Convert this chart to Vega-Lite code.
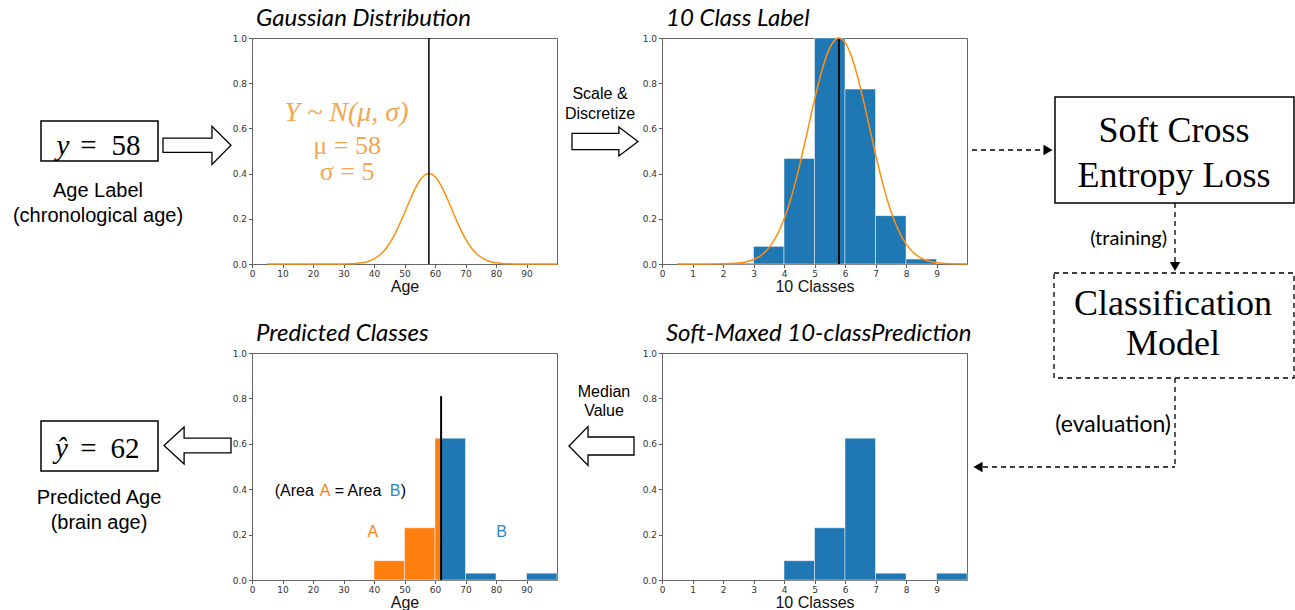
{
  "$schema": "https://vega.github.io/schema/vega-lite/v6.json",
  "background": "white",
  "padding": {"left": 0, "top": 6, "right": 0, "bottom": 0},
  "columns": 5,
  "spacing": {"row": 89, "column": 0},
  "bounds": "flush",
  "align": "each",
  "config": {
    "view": {"stroke": "#666", "strokeWidth": 1},
    "axis": {"labelFont": "DejaVu Sans", "labelFontSize": 9, "labelColor": "#333", "tickColor": "#333", "tickSize": 3.5, "tickWidth": 0.8, "domainColor": "#666", "grid": false, "titleFont": "Liberation Sans", "titleFontSize": 16, "titleFontWeight": "normal", "titleColor": "#111", "labelPadding": 2, "labelFlush": false, "labelOverlap": false},
    "axisX": {"titlePadding": 0},
    "title": {"anchor": "start", "frame": "group", "dx": 4, "font": "Lato", "fontStyle": "italic", "fontSize": 24, "fontWeight": "normal", "color": "black", "offset": 3}
  },
  "concat": [
    {
      "width": 252, "height": 226,
      "view": {"stroke": null, "fill": "white"},
      "data": {"values": [{}]},
      "layer": [
        {"mark": {"type": "rect", "fill": "white", "stroke": "black", "strokeWidth": 1.5},
         "encoding": {"x": {"datum": 41, "type": "quantitative", "scale": {"domain": [0, 252], "nice": false, "zero": false}, "axis": null}, "x2": {"datum": 158},
                      "y": {"datum": 121, "type": "quantitative", "scale": {"domain": [38, 264], "reverse": true, "nice": false, "zero": false}, "axis": null}, "y2": {"datum": 161}}},
        {"mark": {"type": "text", "font": "Liberation Serif", "fontStyle": "italic", "fontSize": 29, "baseline": "alphabetic", "align": "center", "color": "black"},
         "encoding": {"x": {"datum": 63, "type": "quantitative", "scale": {"domain": [0, 252], "nice": false, "zero": false}, "axis": null},
                      "y": {"datum": 155, "type": "quantitative", "scale": {"domain": [38, 264], "reverse": true, "nice": false, "zero": false}, "axis": null}, "text": {"value": "y"}}},
        {"mark": {"type": "text", "font": "Liberation Serif", "fontSize": 29, "baseline": "alphabetic", "align": "center", "color": "black"},
         "encoding": {"x": {"datum": 88.5, "type": "quantitative", "scale": {"domain": [0, 252], "nice": false, "zero": false}, "axis": null},
                      "y": {"datum": 155, "type": "quantitative", "scale": {"domain": [38, 264], "reverse": true, "nice": false, "zero": false}, "axis": null}, "text": {"value": "="}}},
        {"mark": {"type": "text", "font": "Liberation Serif", "fontSize": 29, "baseline": "alphabetic", "align": "center", "color": "black"},
         "encoding": {"x": {"datum": 126, "type": "quantitative", "scale": {"domain": [0, 252], "nice": false, "zero": false}, "axis": null},
                      "y": {"datum": 155, "type": "quantitative", "scale": {"domain": [38, 264], "reverse": true, "nice": false, "zero": false}, "axis": null}, "text": {"value": "58"}}},
        {"mark": {"type": "text", "font": "Liberation Sans", "fontSize": 20, "lineBreak": "\n", "lineHeight": 25, "baseline": "alphabetic", "align": "center", "color": "black"},
         "encoding": {"x": {"datum": 98, "type": "quantitative", "scale": {"domain": [0, 252], "nice": false, "zero": false}, "axis": null},
                      "y": {"datum": 197, "type": "quantitative", "scale": {"domain": [38, 264], "reverse": true, "nice": false, "zero": false}, "axis": null}, "text": {"value": "Age Label\n(chronological age)"}}},
        {"mark": {"type": "point", "shape": "M -1 -0.21 L 0.44 -0.21 L 0.44 -0.56 L 1 0 L 0.44 0.56 L 0.44 0.21 L -1 0.21 Z", "size": 4624, "filled": true, "fill": "white", "stroke": "black", "strokeWidth": 1.3, "opacity": 1},
         "encoding": {"x": {"datum": 197, "type": "quantitative", "scale": {"domain": [0, 252], "nice": false, "zero": false}, "axis": null},
                      "y": {"datum": 145.3, "type": "quantitative", "scale": {"domain": [38, 264], "reverse": true, "nice": false, "zero": false}, "axis": null}}},
        {"mark": {"type": "rect", "fill": "white", "stroke": "black", "strokeWidth": 1.5},
         "encoding": {"x": {"datum": 41, "type": "quantitative", "scale": {"domain": [0, 252], "nice": false, "zero": false}, "axis": null}, "x2": {"datum": 158},
                      "y": {"datum": 421, "type": "quantitative", "scale": {"domain": [38, 264], "reverse": true, "nice": false, "zero": false}, "axis": null}, "y2": {"datum": 471}}},
        {"mark": {"type": "text", "font": "Liberation Serif", "fontStyle": "italic", "fontSize": 29, "baseline": "alphabetic", "align": "center", "color": "black"},
         "encoding": {"x": {"datum": 61.5, "type": "quantitative", "scale": {"domain": [0, 252], "nice": false, "zero": false}, "axis": null},
                      "y": {"datum": 458, "type": "quantitative", "scale": {"domain": [38, 264], "reverse": true, "nice": false, "zero": false}, "axis": null}, "text": {"value": "ŷ"}}},
        {"mark": {"type": "text", "font": "Liberation Serif", "fontSize": 29, "baseline": "alphabetic", "align": "center", "color": "black"},
         "encoding": {"x": {"datum": 88.5, "type": "quantitative", "scale": {"domain": [0, 252], "nice": false, "zero": false}, "axis": null},
                      "y": {"datum": 458, "type": "quantitative", "scale": {"domain": [38, 264], "reverse": true, "nice": false, "zero": false}, "axis": null}, "text": {"value": "="}}},
        {"mark": {"type": "text", "font": "Liberation Serif", "fontSize": 29, "baseline": "alphabetic", "align": "center", "color": "black"},
         "encoding": {"x": {"datum": 125, "type": "quantitative", "scale": {"domain": [0, 252], "nice": false, "zero": false}, "axis": null},
                      "y": {"datum": 458, "type": "quantitative", "scale": {"domain": [38, 264], "reverse": true, "nice": false, "zero": false}, "axis": null}, "text": {"value": "62"}}},
        {"mark": {"type": "text", "font": "Liberation Sans", "fontSize": 20, "lineBreak": "\n", "lineHeight": 25, "baseline": "alphabetic", "align": "center", "color": "black"},
         "encoding": {"x": {"datum": 99, "type": "quantitative", "scale": {"domain": [0, 252], "nice": false, "zero": false}, "axis": null},
                      "y": {"datum": 504, "type": "quantitative", "scale": {"domain": [38, 264], "reverse": true, "nice": false, "zero": false}, "axis": null}, "text": {"value": "Predicted Age\n(brain age)"}}},
        {"mark": {"type": "point", "shape": "M 1 -0.22 L -0.4 -0.22 L -0.4 -0.55 L -1 0 L -0.4 0.55 L -0.4 0.22 L 1 0.22 Z", "size": 4489, "filled": true, "fill": "white", "stroke": "black", "strokeWidth": 1.3, "opacity": 1},
         "encoding": {"x": {"datum": 197.5, "type": "quantitative", "scale": {"domain": [0, 252], "nice": false, "zero": false}, "axis": null},
                      "y": {"datum": 445.5, "type": "quantitative", "scale": {"domain": [38, 264], "reverse": true, "nice": false, "zero": false}, "axis": null}}}
      ]
    },
    {
      "width": 305, "height": 226,
      "title": {"text": "Gaussian Distribution"},
      "layer": [
        {"data": {"values": [
          {"age": 5, "density": 0}, {"age": 20, "density": 0}, {"age": 24, "density": 0}, {"age": 28, "density": 0.0001}, {"age": 30, "density": 0.0004},
          {"age": 32, "density": 0.001}, {"age": 34, "density": 0.0024}, {"age": 36, "density": 0.0054}, {"age": 38, "density": 0.0114}, {"age": 40, "density": 0.0225},
          {"age": 42, "density": 0.041}, {"age": 44, "density": 0.070}, {"age": 46, "density": 0.111}, {"age": 48, "density": 0.164}, {"age": 50, "density": 0.226},
          {"age": 52, "density": 0.290}, {"age": 54, "density": 0.347}, {"age": 56, "density": 0.386}, {"age": 58, "density": 0.400}, {"age": 60, "density": 0.386},
          {"age": 62, "density": 0.347}, {"age": 64, "density": 0.290}, {"age": 66, "density": 0.226}, {"age": 68, "density": 0.164}, {"age": 70, "density": 0.111},
          {"age": 72, "density": 0.070}, {"age": 74, "density": 0.041}, {"age": 76, "density": 0.0225}, {"age": 78, "density": 0.0114}, {"age": 80, "density": 0.0054},
          {"age": 82, "density": 0.0024}, {"age": 84, "density": 0.001}, {"age": 86, "density": 0.0004}, {"age": 88, "density": 0.0001}, {"age": 92, "density": 0},
          {"age": 100, "density": 0}]},
         "mark": {"type": "line", "color": "#ff8f0f", "strokeWidth": 1.5, "interpolate": "monotone"},
         "encoding": {
           "x": {"field": "age", "type": "quantitative", "scale": {"domain": [0, 100], "nice": false, "zero": false}, "axis": {"values": [0, 10, 20, 30, 40, 50, 60, 70, 80, 90], "title": "Age"}},
           "y": {"field": "density", "type": "quantitative", "scale": {"domain": [0, 1], "nice": false}, "axis": {"values": [0, 0.2, 0.4, 0.6, 0.8, 1], "format": ".1f", "title": null}}}},
        {"data": {"values": [{"age": 58, "low": 0, "high": 1}]},
         "mark": {"type": "rule", "color": "black", "strokeWidth": 1.5},
         "encoding": {"x": {"field": "age", "type": "quantitative", "axis": {"values": [0, 10, 20, 30, 40, 50, 60, 70, 80, 90], "title": "Age"}},
                      "y": {"field": "low", "type": "quantitative", "axis": {"values": [0, 0.2, 0.4, 0.6, 0.8, 1], "format": ".1f", "title": null}}, "y2": {"field": "high"}}},
        {"data": {"values": [{"label": "Y ~ N(μ, σ)"}]},
         "mark": {"type": "text", "font": "Liberation Serif", "fontStyle": "italic", "fontSize": 28, "color": "#f4a650", "baseline": "middle"},
         "encoding": {"x": {"datum": 31, "axis": {"values": [0, 10, 20, 30, 40, 50, 60, 70, 80, 90], "title": "Age"}}, "y": {"datum": 0.67, "axis": {"values": [0, 0.2, 0.4, 0.6, 0.8, 1], "format": ".1f", "title": null}}, "text": {"field": "label"}}},
        {"data": {"values": [{"label": "μ = 58"}]},
         "mark": {"type": "text", "font": "Liberation Serif", "fontSize": 26, "color": "#f4a650", "baseline": "middle"},
         "encoding": {"x": {"datum": 31.2, "axis": {"values": [0, 10, 20, 30, 40, 50, 60, 70, 80, 90], "title": "Age"}}, "y": {"datum": 0.522, "axis": {"values": [0, 0.2, 0.4, 0.6, 0.8, 1], "format": ".1f", "title": null}}, "text": {"field": "label"}}},
        {"data": {"values": [{"label": "σ = 5"}]},
         "mark": {"type": "text", "font": "Liberation Serif", "fontSize": 26, "color": "#f4a650", "baseline": "middle"},
         "encoding": {"x": {"datum": 31.2, "axis": {"values": [0, 10, 20, 30, 40, 50, 60, 70, 80, 90], "title": "Age"}}, "y": {"datum": 0.405, "axis": {"values": [0, 0.2, 0.4, 0.6, 0.8, 1], "format": ".1f", "title": null}}, "text": {"field": "label"}}}
      ]
    },
    {
      "width": 105, "height": 226,
      "view": {"stroke": null},
      "data": {"values": [{}]},
      "layer": [
        {"mark": {"type": "text", "font": "Liberation Sans", "fontSize": 16, "lineBreak": "\n", "lineHeight": 20, "baseline": "alphabetic", "align": "center", "color": "black"},
         "encoding": {"x": {"datum": 600, "type": "quantitative", "scale": {"domain": [557, 662], "nice": false, "zero": false}, "axis": null},
                      "y": {"datum": 99, "type": "quantitative", "scale": {"domain": [38, 264], "reverse": true, "nice": false, "zero": false}, "axis": null}, "text": {"value": "Scale &\nDiscretize"}}},
        {"mark": {"type": "point", "shape": "M -1 -0.245 L 0.42 -0.245 L 0.42 -0.44 L 1 0 L 0.42 0.44 L 0.42 0.245 L -1 0.245 Z", "size": 4356, "filled": true, "fill": "white", "stroke": "black", "strokeWidth": 1.3, "opacity": 1},
         "encoding": {"x": {"datum": 605, "type": "quantitative", "scale": {"domain": [557, 662], "nice": false, "zero": false}, "axis": null},
                      "y": {"datum": 141.5, "type": "quantitative", "scale": {"domain": [38, 264], "reverse": true, "nice": false, "zero": false}, "axis": null}}},
        {"mark": {"type": "text", "font": "Liberation Sans", "fontSize": 16, "lineBreak": "\n", "lineHeight": 19, "baseline": "alphabetic", "align": "center", "color": "black"},
         "encoding": {"x": {"datum": 604, "type": "quantitative", "scale": {"domain": [557, 662], "nice": false, "zero": false}, "axis": null},
                      "y": {"datum": 397, "type": "quantitative", "scale": {"domain": [38, 264], "reverse": true, "nice": false, "zero": false}, "axis": null}, "text": {"value": "Median\nValue"}}},
        {"mark": {"type": "point", "shape": "M 1 -0.277 L -0.415 -0.277 L -0.415 -0.6 L -1 0 L -0.415 0.6 L -0.415 0.277 L 1 0.277 Z", "size": 4225, "filled": true, "fill": "white", "stroke": "black", "strokeWidth": 1.3, "opacity": 1},
         "encoding": {"x": {"datum": 601.5, "type": "quantitative", "scale": {"domain": [557, 662], "nice": false, "zero": false}, "axis": null},
                      "y": {"datum": 446, "type": "quantitative", "scale": {"domain": [38, 264], "reverse": true, "nice": false, "zero": false}, "axis": null}}}
      ]
    },
    {
      "width": 305, "height": 226,
      "title": {"text": "10 Class Label"},
      "layer": [
        {"data": {"values": [
          {"start": 2, "end": 3, "prob": 0.004}, {"start": 3, "end": 4, "prob": 0.078}, {"start": 4, "end": 5, "prob": 0.467},
          {"start": 5, "end": 6, "prob": 1.0}, {"start": 6, "end": 7, "prob": 0.774}, {"start": 7, "end": 8, "prob": 0.214}, {"start": 8, "end": 9, "prob": 0.022}]},
         "mark": {"type": "bar", "color": "#1f77b4", "stroke": "white", "strokeOpacity": 0.6, "strokeWidth": 0.8},
         "encoding": {
           "x": {"field": "start", "type": "quantitative", "scale": {"domain": [0, 10], "nice": false, "zero": false}, "axis": {"values": [0, 1, 2, 3, 4, 5, 6, 7, 8, 9], "title": "10 Classes"}},
           "x2": {"field": "end"},
           "y": {"field": "prob", "type": "quantitative", "scale": {"domain": [0, 1], "nice": false}, "axis": {"values": [0, 0.2, 0.4, 0.6, 0.8, 1], "format": ".1f", "title": null}},
           "y2": {"datum": 0}}},
        {"data": {"values": [{"cls": 5.8, "low": 0, "high": 1}]},
         "mark": {"type": "rule", "color": "black", "strokeWidth": 1.8},
         "encoding": {"x": {"field": "cls", "type": "quantitative", "axis": {"values": [0, 1, 2, 3, 4, 5, 6, 7, 8, 9], "title": "10 Classes"}},
                      "y": {"field": "low", "type": "quantitative", "axis": {"values": [0, 0.2, 0.4, 0.6, 0.8, 1], "format": ".1f", "title": null}}, "y2": {"field": "high"}}},
        {"data": {"values": [
          {"cls": 0.5, "p": 0}, {"cls": 1.5, "p": 0.0001}, {"cls": 2.0, "p": 0.0007}, {"cls": 2.4, "p": 0.0031}, {"cls": 2.8, "p": 0.0111},
          {"cls": 3.0, "p": 0.0198}, {"cls": 3.2, "p": 0.034}, {"cls": 3.4, "p": 0.0561}, {"cls": 3.6, "p": 0.0889}, {"cls": 3.8, "p": 0.1353},
          {"cls": 4.0, "p": 0.1979}, {"cls": 4.2, "p": 0.278}, {"cls": 4.4, "p": 0.3753}, {"cls": 4.6, "p": 0.4868}, {"cls": 4.8, "p": 0.6065},
          {"cls": 5.0, "p": 0.7261}, {"cls": 5.2, "p": 0.8353}, {"cls": 5.4, "p": 0.9231}, {"cls": 5.6, "p": 0.9802}, {"cls": 5.8, "p": 1.0},
          {"cls": 6.0, "p": 0.9802}, {"cls": 6.2, "p": 0.9231}, {"cls": 6.4, "p": 0.8353}, {"cls": 6.6, "p": 0.7261}, {"cls": 6.8, "p": 0.6065},
          {"cls": 7.0, "p": 0.4868}, {"cls": 7.2, "p": 0.3753}, {"cls": 7.4, "p": 0.278}, {"cls": 7.6, "p": 0.1979}, {"cls": 7.8, "p": 0.1353},
          {"cls": 8.0, "p": 0.0889}, {"cls": 8.2, "p": 0.0561}, {"cls": 8.4, "p": 0.034}, {"cls": 8.6, "p": 0.0198}, {"cls": 8.8, "p": 0.0111},
          {"cls": 9.2, "p": 0.0031}, {"cls": 9.6, "p": 0.0007}, {"cls": 10.0, "p": 0.0001}]},
         "mark": {"type": "line", "color": "#ff8f0f", "strokeWidth": 1.5, "interpolate": "monotone"},
         "encoding": {"x": {"field": "cls", "type": "quantitative", "axis": {"values": [0, 1, 2, 3, 4, 5, 6, 7, 8, 9], "title": "10 Classes"}},
                      "y": {"field": "p", "type": "quantitative", "axis": {"values": [0, 0.2, 0.4, 0.6, 0.8, 1], "format": ".1f", "title": null}}}}
      ]
    },
    {
      "width": 328, "height": 226,
      "view": {"stroke": null},
      "data": {"values": [{}]},
      "layer": [
        {"mark": {"type": "rule", "color": "black", "strokeWidth": 1.3, "strokeDash": [5, 4]},
         "encoding": {"x": {"datum": 972, "type": "quantitative", "scale": {"domain": [967, 1295], "nice": false, "zero": false}, "axis": null}, "x2": {"datum": 1043},
                      "y": {"datum": 150, "type": "quantitative", "scale": {"domain": [38, 264], "reverse": true, "nice": false, "zero": false}, "axis": null}}},
        {"mark": {"type": "point", "shape": "triangle-right", "size": 110, "filled": true, "color": "black", "opacity": 1},
         "encoding": {"x": {"datum": 1048, "type": "quantitative", "scale": {"domain": [967, 1295], "nice": false, "zero": false}, "axis": null},
                      "y": {"datum": 150, "type": "quantitative", "scale": {"domain": [38, 264], "reverse": true, "nice": false, "zero": false}, "axis": null}}},
        {"mark": {"type": "rect", "fill": "white", "stroke": "black", "strokeWidth": 1.5},
         "encoding": {"x": {"datum": 1055, "type": "quantitative", "scale": {"domain": [967, 1295], "nice": false, "zero": false}, "axis": null}, "x2": {"datum": 1294},
                      "y": {"datum": 97, "type": "quantitative", "scale": {"domain": [38, 264], "reverse": true, "nice": false, "zero": false}, "axis": null}, "y2": {"datum": 203}}},
        {"mark": {"type": "text", "font": "Liberation Serif", "fontSize": 36, "lineBreak": "\n", "lineHeight": 45, "baseline": "alphabetic", "align": "center", "color": "black"},
         "encoding": {"x": {"datum": 1174, "type": "quantitative", "scale": {"domain": [967, 1295], "nice": false, "zero": false}, "axis": null},
                      "y": {"datum": 142, "type": "quantitative", "scale": {"domain": [38, 264], "reverse": true, "nice": false, "zero": false}, "axis": null}, "text": {"value": "Soft Cross\nEntropy Loss"}}},
        {"mark": {"type": "rule", "color": "black", "strokeWidth": 1.3, "strokeDash": [5, 4]},
         "encoding": {"x": {"datum": 1175, "type": "quantitative", "scale": {"domain": [967, 1295], "nice": false, "zero": false}, "axis": null},
                      "y": {"datum": 203, "type": "quantitative", "scale": {"domain": [38, 264], "reverse": true, "nice": false, "zero": false}, "axis": null}, "y2": {"datum": 262}}},
        {"mark": {"type": "point", "shape": "triangle-down", "size": 110, "filled": true, "color": "black", "opacity": 1},
         "encoding": {"x": {"datum": 1175, "type": "quantitative", "scale": {"domain": [967, 1295], "nice": false, "zero": false}, "axis": null},
                      "y": {"datum": 266.5, "type": "quantitative", "scale": {"domain": [38, 264], "reverse": true, "nice": false, "zero": false}, "axis": null}}},
        {"mark": {"type": "text", "font": "Lato", "fontSize": 20, "baseline": "middle", "align": "right", "color": "black"},
         "encoding": {"x": {"datum": 1167, "type": "quantitative", "scale": {"domain": [967, 1295], "nice": false, "zero": false}, "axis": null},
                      "y": {"datum": 239, "type": "quantitative", "scale": {"domain": [38, 264], "reverse": true, "nice": false, "zero": false}, "axis": null}, "text": {"value": "(training)"}}},
        {"mark": {"type": "rect", "fill": null, "stroke": "black", "strokeWidth": 1.3, "strokeDash": [5, 4]},
         "encoding": {"x": {"datum": 1054, "type": "quantitative", "scale": {"domain": [967, 1295], "nice": false, "zero": false}, "axis": null}, "x2": {"datum": 1294},
                      "y": {"datum": 273, "type": "quantitative", "scale": {"domain": [38, 264], "reverse": true, "nice": false, "zero": false}, "axis": null}, "y2": {"datum": 378}}},
        {"mark": {"type": "text", "font": "Liberation Serif", "fontSize": 36, "lineBreak": "\n", "lineHeight": 40, "baseline": "alphabetic", "align": "center", "color": "black"},
         "encoding": {"x": {"datum": 1173, "type": "quantitative", "scale": {"domain": [967, 1295], "nice": false, "zero": false}, "axis": null},
                      "y": {"datum": 315, "type": "quantitative", "scale": {"domain": [38, 264], "reverse": true, "nice": false, "zero": false}, "axis": null}, "text": {"value": "Classification\nModel"}}},
        {"mark": {"type": "rule", "color": "black", "strokeWidth": 1.3, "strokeDash": [5, 4]},
         "encoding": {"x": {"datum": 1175, "type": "quantitative", "scale": {"domain": [967, 1295], "nice": false, "zero": false}, "axis": null},
                      "y": {"datum": 378, "type": "quantitative", "scale": {"domain": [38, 264], "reverse": true, "nice": false, "zero": false}, "axis": null}, "y2": {"datum": 467}}},
        {"mark": {"type": "rule", "color": "black", "strokeWidth": 1.3, "strokeDash": [5, 4]},
         "encoding": {"x": {"datum": 983, "type": "quantitative", "scale": {"domain": [967, 1295], "nice": false, "zero": false}, "axis": null}, "x2": {"datum": 1175},
                      "y": {"datum": 467, "type": "quantitative", "scale": {"domain": [38, 264], "reverse": true, "nice": false, "zero": false}, "axis": null}}},
        {"mark": {"type": "point", "shape": "triangle-left", "size": 110, "filled": true, "color": "black", "opacity": 1},
         "encoding": {"x": {"datum": 978, "type": "quantitative", "scale": {"domain": [967, 1295], "nice": false, "zero": false}, "axis": null},
                      "y": {"datum": 467, "type": "quantitative", "scale": {"domain": [38, 264], "reverse": true, "nice": false, "zero": false}, "axis": null}}},
        {"mark": {"type": "text", "font": "Lato", "fontSize": 23, "baseline": "middle", "align": "right", "color": "black"},
         "encoding": {"x": {"datum": 1171, "type": "quantitative", "scale": {"domain": [967, 1295], "nice": false, "zero": false}, "axis": null},
                      "y": {"datum": 425, "type": "quantitative", "scale": {"domain": [38, 264], "reverse": true, "nice": false, "zero": false}, "axis": null}, "text": {"value": "(evaluation)"}}}
      ]
    },
    {
      "width": 252, "height": 227,
      "view": {"stroke": null},
      "data": {"values": []},
      "mark": "point"
    },
    {
      "width": 305, "height": 227,
      "title": {"text": "Predicted Classes"},
      "layer": [
        {"data": {"values": [
          {"start": 40, "end": 50, "prob": 0.085, "part": "A"}, {"start": 50, "end": 60, "prob": 0.23, "part": "A"}, {"start": 60, "end": 62, "prob": 0.625, "part": "A"},
          {"start": 62, "end": 70, "prob": 0.625, "part": "B"}, {"start": 70, "end": 80, "prob": 0.03, "part": "B"}, {"start": 90, "end": 100, "prob": 0.03, "part": "B"}]},
         "mark": {"type": "bar", "stroke": "white", "strokeOpacity": 0.6, "strokeWidth": 0.8},
         "encoding": {
           "x": {"field": "start", "type": "quantitative", "scale": {"domain": [0, 100], "nice": false, "zero": false}, "axis": {"values": [0, 10, 20, 30, 40, 50, 60, 70, 80, 90], "title": "Age"}},
           "x2": {"field": "end"},
           "y": {"field": "prob", "type": "quantitative", "scale": {"domain": [0, 1], "nice": false}, "axis": {"values": [0, 0.2, 0.4, 0.6, 0.8, 1], "format": ".1f", "title": null}},
           "y2": {"datum": 0},
           "color": {"field": "part", "type": "nominal", "scale": {"domain": ["A", "B"], "range": ["#ff7f0e", "#1f77b4"]}, "legend": null}}},
        {"data": {"values": [{"age": 62, "low": 0, "high": 0.81}]},
         "mark": {"type": "rule", "color": "black", "strokeWidth": 2},
         "encoding": {"x": {"field": "age", "type": "quantitative", "axis": {"values": [0, 10, 20, 30, 40, 50, 60, 70, 80, 90], "title": "Age"}},
                      "y": {"field": "low", "type": "quantitative", "axis": {"values": [0, 0.2, 0.4, 0.6, 0.8, 1], "format": ".1f", "title": null}}, "y2": {"field": "high"}}},
        {"data": {"values": [{"label": "(Area"}]},
         "mark": {"type": "text", "font": "Liberation Sans", "fontSize": 16, "color": "black", "align": "left", "baseline": "middle"},
         "encoding": {"x": {"datum": 7.44, "axis": {"values": [0, 10, 20, 30, 40, 50, 60, 70, 80, 90], "title": "Age"}}, "y": {"datum": 0.39, "axis": {"values": [0, 0.2, 0.4, 0.6, 0.8, 1], "format": ".1f", "title": null}}, "text": {"field": "label"}}},
        {"data": {"values": [{"label": "A"}]},
         "mark": {"type": "text", "font": "Liberation Sans", "fontSize": 16, "color": "#ff7f0e", "align": "left", "baseline": "middle"},
         "encoding": {"x": {"datum": 22.2, "axis": {"values": [0, 10, 20, 30, 40, 50, 60, 70, 80, 90], "title": "Age"}}, "y": {"datum": 0.39, "axis": {"values": [0, 0.2, 0.4, 0.6, 0.8, 1], "format": ".1f", "title": null}}, "text": {"field": "label"}}},
        {"data": {"values": [{"label": "= Area"}]},
         "mark": {"type": "text", "font": "Liberation Sans", "fontSize": 16, "color": "black", "align": "left", "baseline": "middle"},
         "encoding": {"x": {"datum": 27.1, "axis": {"values": [0, 10, 20, 30, 40, 50, 60, 70, 80, 90], "title": "Age"}}, "y": {"datum": 0.39, "axis": {"values": [0, 0.2, 0.4, 0.6, 0.8, 1], "format": ".1f", "title": null}}, "text": {"field": "label"}}},
        {"data": {"values": [{"label": "B"}]},
         "mark": {"type": "text", "font": "Liberation Sans", "fontSize": 16, "color": "#2e86c8", "align": "left", "baseline": "middle"},
         "encoding": {"x": {"datum": 45.15, "axis": {"values": [0, 10, 20, 30, 40, 50, 60, 70, 80, 90], "title": "Age"}}, "y": {"datum": 0.39, "axis": {"values": [0, 0.2, 0.4, 0.6, 0.8, 1], "format": ".1f", "title": null}}, "text": {"field": "label"}}},
        {"data": {"values": [{"label": ")"}]},
         "mark": {"type": "text", "font": "Liberation Sans", "fontSize": 16, "color": "black", "align": "left", "baseline": "middle"},
         "encoding": {"x": {"datum": 48.75, "axis": {"values": [0, 10, 20, 30, 40, 50, 60, 70, 80, 90], "title": "Age"}}, "y": {"datum": 0.39, "axis": {"values": [0, 0.2, 0.4, 0.6, 0.8, 1], "format": ".1f", "title": null}}, "text": {"field": "label"}}},
        {"data": {"values": [{"label": "A"}]},
         "mark": {"type": "text", "font": "Liberation Sans", "fontSize": 16, "color": "#ff7f0e", "align": "center", "baseline": "middle"},
         "encoding": {"x": {"datum": 39.6, "axis": {"values": [0, 10, 20, 30, 40, 50, 60, 70, 80, 90], "title": "Age"}}, "y": {"datum": 0.21, "axis": {"values": [0, 0.2, 0.4, 0.6, 0.8, 1], "format": ".1f", "title": null}}, "text": {"field": "label"}}},
        {"data": {"values": [{"label": "B"}]},
         "mark": {"type": "text", "font": "Liberation Sans", "fontSize": 16, "color": "#2e86c8", "align": "center", "baseline": "middle"},
         "encoding": {"x": {"datum": 81.8, "axis": {"values": [0, 10, 20, 30, 40, 50, 60, 70, 80, 90], "title": "Age"}}, "y": {"datum": 0.21, "axis": {"values": [0, 0.2, 0.4, 0.6, 0.8, 1], "format": ".1f", "title": null}}, "text": {"field": "label"}}}
      ]
    },
    {
      "width": 105, "height": 227,
      "view": {"stroke": null},
      "data": {"values": []},
      "mark": "point"
    },
    {
      "width": 305, "height": 227,
      "title": {"text": "Soft-Maxed 10-classPrediction"},
      "data": {"values": [
        {"start": 4, "end": 5, "prob": 0.085}, {"start": 5, "end": 6, "prob": 0.23}, {"start": 6, "end": 7, "prob": 0.625},
        {"start": 7, "end": 8, "prob": 0.03}, {"start": 9, "end": 10, "prob": 0.03}]},
      "mark": {"type": "bar", "color": "#1f77b4", "stroke": "white", "strokeOpacity": 0.6, "strokeWidth": 0.8},
      "encoding": {
        "x": {"field": "start", "type": "quantitative", "scale": {"domain": [0, 10], "nice": false, "zero": false}, "axis": {"values": [0, 1, 2, 3, 4, 5, 6, 7, 8, 9], "title": "10 Classes"}},
        "x2": {"field": "end"},
        "y": {"field": "prob", "type": "quantitative", "scale": {"domain": [0, 1], "nice": false}, "axis": {"values": [0, 0.2, 0.4, 0.6, 0.8, 1], "format": ".1f", "title": null}},
        "y2": {"datum": 0}}
    },
    {
      "width": 328, "height": 227,
      "view": {"stroke": null},
      "data": {"values": []},
      "mark": "point"
    }
  ]
}
